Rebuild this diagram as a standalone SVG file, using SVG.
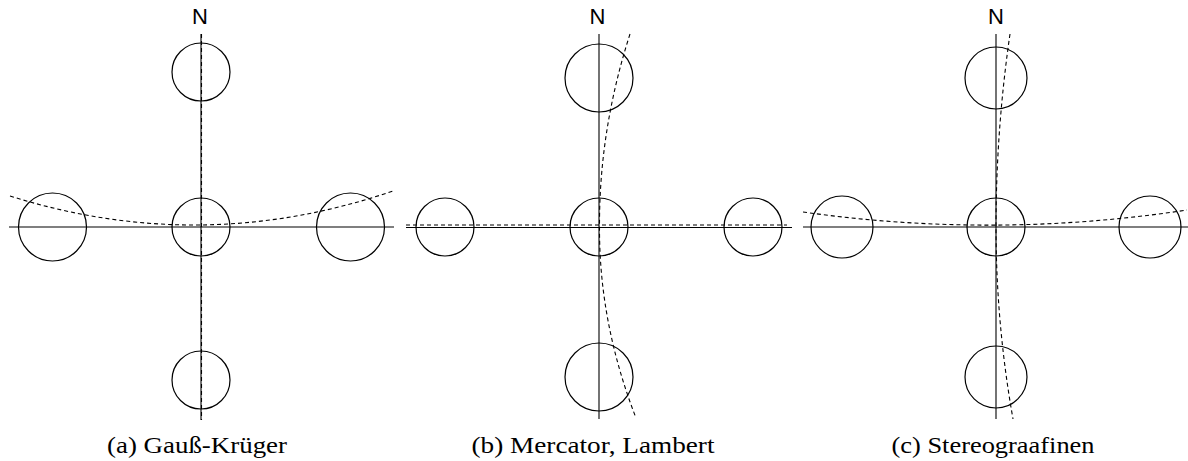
<svg xmlns="http://www.w3.org/2000/svg" width="1188" height="461" viewBox="0 0 1188 461">
<style>
.ax{stroke:#000;stroke-width:1.1;fill:none}
.ds{stroke:#000;stroke-width:1.1;fill:none;stroke-dasharray:4 3}
.c{stroke:#000;stroke-width:1.2;fill:none}
.n{font-family:"Liberation Sans",Arial,sans-serif;font-size:22px;fill:#000;text-anchor:middle}
.cap{font-family:"Liberation Serif","Times New Roman",serif;font-size:24px;fill:#000;text-anchor:middle}
</style>
<rect width="1188" height="461" fill="#fff"/>
<g id="panel-a">
  <g id="connectors-a">
    <line class="ax" x1="201" y1="34" x2="201" y2="420"/>
    <line class="ax" x1="9" y1="227" x2="394" y2="227"/>
    <line class="ds" x1="201.5" y1="34" x2="201.5" y2="420"/>
    <path class="ds" d="M10,196 Q201.5,256.4 393,191"/>
  </g>
  <circle id="a-top" class="c" cx="201" cy="72" r="29"/>
  <circle id="a-center" class="c" cx="201" cy="227" r="29"/>
  <circle id="a-bottom" class="c" cx="201" cy="380" r="29"/>
  <circle id="a-left" class="c" cx="52.5" cy="227" r="34"/>
  <circle id="a-right" class="c" cx="350.5" cy="227" r="34"/>
  <text id="a-N" class="n" x="200" y="24">N</text>
  <text id="a-caption" class="cap" x="197" y="453" textLength="180" lengthAdjust="spacingAndGlyphs">(a) Gauß-Krüger</text>
</g>
<g id="panel-b">
  <g id="connectors-b">
    <line class="ax" x1="599" y1="34" x2="599" y2="419"/>
    <line class="ax" x1="406" y1="227.5" x2="792" y2="227.5"/>
    <line class="ds" x1="406" y1="225" x2="787" y2="225"/>
    <path class="ds" d="M630,34 Q599,130.5 599.5,227 Q599,322.5 636,418"/>
  </g>
  <circle id="b-top" class="c" cx="599" cy="78" r="34"/>
  <circle id="b-center" class="c" cx="599" cy="227" r="29"/>
  <circle id="b-bottom" class="c" cx="599" cy="377" r="34"/>
  <circle id="b-left" class="c" cx="445" cy="227" r="29"/>
  <circle id="b-right" class="c" cx="753" cy="227" r="29"/>
  <text id="b-N" class="n" x="597.5" y="24">N</text>
  <text id="b-caption" class="cap" x="593" y="453" textLength="243" lengthAdjust="spacingAndGlyphs">(b) Mercator, Lambert</text>
</g>
<g id="panel-c">
  <g id="connectors-c">
    <line class="ax" x1="996" y1="34" x2="996" y2="419"/>
    <line class="ax" x1="803" y1="227" x2="1188" y2="227"/>
    <path class="ds" d="M803,212 Q995,239.2 1187,210"/>
    <path class="ds" d="M1010,34 Q996,130.5 996,227 Q996,323 1013,419"/>
  </g>
  <circle id="c-top" class="c" cx="996" cy="78" r="31"/>
  <circle id="c-center" class="c" cx="996" cy="227" r="29"/>
  <circle id="c-bottom" class="c" cx="996" cy="377" r="31"/>
  <circle id="c-left" class="c" cx="842" cy="227" r="31"/>
  <circle id="c-right" class="c" cx="1150" cy="227" r="31"/>
  <text id="c-N" class="n" x="996" y="24">N</text>
  <text id="c-caption" class="cap" x="993" y="453" textLength="203" lengthAdjust="spacingAndGlyphs">(c) Stereograafinen</text>
</g>
</svg>
